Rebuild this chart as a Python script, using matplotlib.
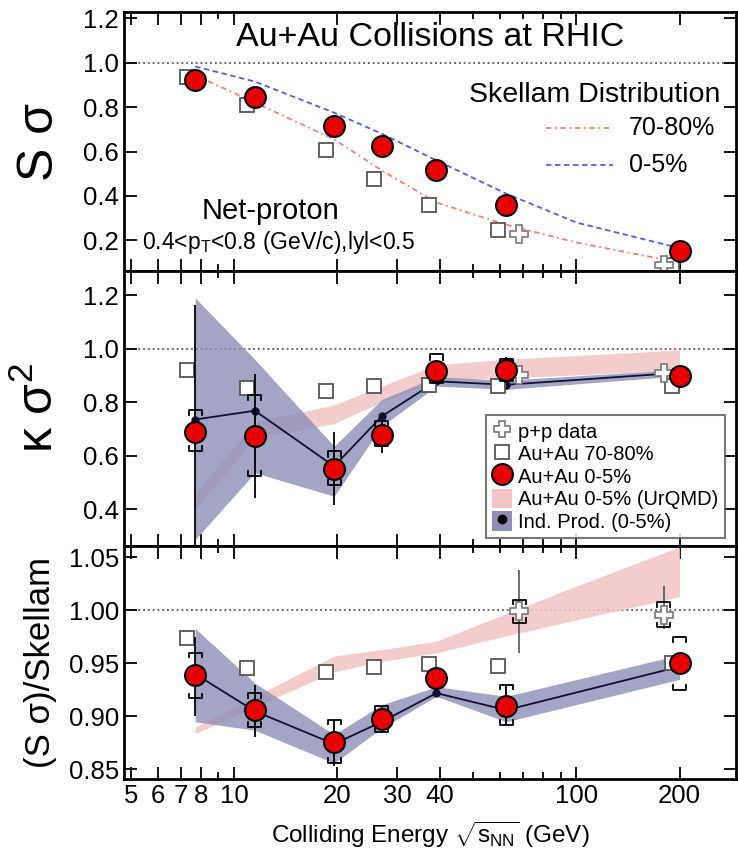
import matplotlib
matplotlib.use('Agg')
import matplotlib.pyplot as plt
from matplotlib.lines import Line2D
from matplotlib.patches import Patch
from matplotlib.ticker import FixedLocator, NullFormatter

plt.rcParams['font.family'] = ['Liberation Sans', 'DejaVu Sans']
plt.rcParams['mathtext.fontset'] = 'custom'
plt.rcParams['mathtext.rm'] = 'Liberation Sans'
plt.rcParams['mathtext.it'] = 'Liberation Sans:italic'

# beam energies (GeV)
energy = [7.7, 11.5, 19.6, 27, 39, 62.4, 200]
energy_periph = [7.3, 10.9, 18.6, 25.7, 37, 59, 190]
energy_pp = [68, 180]

# S sigma
ss_central = [0.92, 0.845, 0.715, 0.627, 0.515, 0.36, 0.15]
ss_periph = [0.935, 0.81, 0.605, 0.477, 0.36, 0.245, 0.09]
ss_pp = [0.23, 0.09]
skellam_energy = [7.7, 11.5, 19.6, 27, 39, 62.4, 100, 200]
skellam_central = [0.983, 0.915, 0.775, 0.68, 0.56, 0.41, 0.28, 0.165]
skellam_periph = [0.945, 0.82, 0.655, 0.515, 0.37, 0.27, 0.19, 0.10]

# kappa sigma^2
ks_central = [0.69, 0.675, 0.551, 0.678, 0.915, 0.92, 0.896]
ks_stat_lo = [0.26, 0.443, 0.417, 0.61, 0.875, 0.87, 0.885]
ks_stat_hi = [1.165, 0.906, 0.69, 0.735, 0.955, 0.97, 0.905]
ks_sys_lo = [0.616, 0.523, 0.49, 0.635, 0.87, 0.88, 0.885]
ks_sys_hi = [0.772, 0.828, 0.616, 0.73, 0.98, 0.96, 0.905]
ks_periph = [0.92, 0.854, 0.84, 0.86, 0.865, 0.86, 0.86]
ks_pp = [0.9, 0.91]
ks_indprod = [0.735, 0.768, 0.56, 0.747, 0.878, 0.865, 0.91]
ks_indprod_lo = [0.286, 0.536, 0.448, 0.71, 0.86, 0.848, 0.898]
ks_indprod_hi = [1.19, 0.96, 0.635, 0.81, 0.895, 0.882, 0.922]
ks_urqmd_lo = [0.40, 0.665, 0.72, 0.80, 0.885, 0.89, 0.92]
ks_urqmd_hi = [0.46, 0.725, 0.79, 0.86, 0.94, 0.96, 0.995]

# (S sigma)/Skellam
r_central = [0.939, 0.906, 0.876, 0.8975, 0.936, 0.910, 0.95]
r_stat_lo = [0.90, 0.881, 0.853, 0.885, 0.928, 0.892, 0.94]
r_stat_hi = [0.975, 0.93, 0.897, 0.91, 0.944, 0.93, 0.96]
r_sys_lo = [0.917, 0.89, 0.856, 0.885, 0.928, 0.892, 0.925]
r_sys_hi = [0.96, 0.922, 0.897, 0.91, 0.944, 0.93, 0.975]
r_periph = [0.974, 0.9457, 0.9415, 0.947, 0.949, 0.948, 0.95]
r_pp = [0.999, 0.996]
r_pp_stat_lo = [0.96, 0.982]
r_pp_stat_hi = [1.038, 1.023]
r_pp_sys_lo = [0.988, 0.984]
r_pp_sys_hi = [1.01, 1.008]
r_indprod = [0.94, 0.905, 0.874, 0.895, 0.922, 0.906, 0.947]
r_indprod_lo = [0.895, 0.887, 0.856, 0.889, 0.919, 0.895, 0.935]
r_indprod_hi = [0.983, 0.9315, 0.883, 0.911, 0.928, 0.919, 0.958]
r_urqmd_energy = [7.7, 11.5, 19.6, 27, 39, 62.4, 100, 200]
r_urqmd_lo = [0.884, 0.909, 0.942, 0.952, 0.96, 0.976, 0.991, 1.013]
r_urqmd_hi = [0.89, 0.919, 0.957, 0.963, 0.971, 0.997, 1.023, 1.06]

xtick_vals = [5, 6, 7, 8, 10, 20, 30, 40, 100, 200]
xminor_vals = [9, 50, 60, 70, 80, 90, 300]

RED = '#e60000'
BAND_BLUE = '#8e8eb6'
BAND_PINK = '#f3c4c4'


def draw_sys(ax, x, lo, hi, hw=1.045, tick=0.02):
    y0, y1 = ax.get_ylim()
    t = tick * (y1 - y0)
    for xi, l, h in zip(x, lo, hi):
        xs = [xi / hw, xi / hw, xi * hw, xi * hw]
        ax.plot(xs, [h - t, h, h, h - t], color='k', lw=1.3, zorder=6)
        ax.plot(xs, [l + t, l, l, l + t], color='k', lw=1.3, zorder=6)


def style_axis(ax, yticks, fmt):
    ax.set_xscale('log')
    ax.set_xlim(4.77, 292)
    ax.xaxis.set_major_locator(FixedLocator(xtick_vals))
    ax.xaxis.set_minor_locator(FixedLocator(xminor_vals))
    ax.xaxis.set_minor_formatter(NullFormatter())
    ax.set_yticks(yticks)
    ax.set_yticklabels([fmt.format(v) for v in yticks])
    ax.tick_params(which='both', direction='in', top=True, right=True,
                   labelsize=18.5, width=1.3)
    ax.tick_params(which='major', length=9)
    ax.tick_params(which='minor', length=5)
    for s in ax.spines.values():
        s.set_linewidth(2)
    ax.axhline(1.0, color='#555555', ls=':', lw=1.3, zorder=1)


fig = plt.figure(figsize=(7.38, 8.5), dpi=100)
L, W = 0.168, 0.829
ax1 = fig.add_axes([L, 0.681, W, 0.305])
ax2 = fig.add_axes([L, 0.358, W, 0.323])
ax3 = fig.add_axes([L, 0.0835, W, 0.2745])

# top panel: S sigma
ax1.set_ylim(0.061, 1.229)
style_axis(ax1, [0.2, 0.4, 0.6, 0.8, 1.0, 1.2], '{:.1f}')
ax1.plot(skellam_energy, skellam_periph, color='#f08080', ls=(0, (3, 2, 1, 2)), lw=1.3)
ax1.plot(skellam_energy, skellam_central, color='#5a5ae0', ls=(0, (3, 2)), lw=1.3)
ax1.plot(energy_periph, ss_periph, 's', ms=10, mfc='white', mec='#555555', mew=1.3)
ax1.plot(energy_pp, ss_pp, 'P', ms=13, mfc='white', mec='#777777', mew=1.2)
ax1.plot(energy, ss_central, 'o', ms=15, mfc=RED, mec='k', mew=1.5, zorder=8)
ax1.text(0.5, 0.9, 'Au+Au Collisions at RHIC', transform=ax1.transAxes,
         ha='center', va='center', fontsize=24.5)
ax1.text(0.975, 0.68, 'Skellam Distribution', transform=ax1.transAxes,
         ha='right', va='center', fontsize=20.5)
ax1.plot([0.69, 0.80], [0.552, 0.552], transform=ax1.transAxes,
         color='#f08080', ls=(0, (3, 2, 1, 2)), lw=1.3)
ax1.text(0.825, 0.552, '70-80%', transform=ax1.transAxes, ha='left', va='center', fontsize=18)
ax1.plot([0.69, 0.80], [0.41, 0.41], transform=ax1.transAxes,
         color='#5a5ae0', ls=(0, (3, 2)), lw=1.3)
ax1.text(0.825, 0.41, '0-5%', transform=ax1.transAxes, ha='left', va='center', fontsize=18)
ax1.text(0.24, 0.232, 'Net-proton', transform=ax1.transAxes, ha='center', va='center', fontsize=21)
ax1.text(0.03, 0.112, r'0.4<p$_\mathrm{T}$<0.8 (GeV/c),lyl<0.5', transform=ax1.transAxes,
         ha='left', va='center', fontsize=16.5)
ax1.set_ylabel('S σ', fontsize=36)
ax1.tick_params(labelbottom=False)

# middle panel: kappa sigma^2
ax2.set_ylim(0.263, 1.29)
style_axis(ax2, [0.4, 0.6, 0.8, 1.0, 1.2], '{:.1f}')
ax2.fill_between(energy, ks_urqmd_lo, ks_urqmd_hi, color=BAND_PINK, lw=0, alpha=0.85, zorder=2)
ax2.fill_between(energy, ks_indprod_lo, ks_indprod_hi, color=BAND_BLUE, lw=0, alpha=0.8, zorder=3)
ax2.plot(energy, ks_indprod, '-o', color='#101030', lw=1.3, ms=5, zorder=4)
ax2.plot(energy_periph, ks_periph, 's', ms=10, mfc='white', mec='#555555', mew=1.3, zorder=4)
ax2.plot(energy_pp, ks_pp, 'P', ms=13, mfc='white', mec='#777777', mew=1.2, zorder=5)
ks_err = [[c - l for c, l in zip(ks_central, ks_stat_lo)],
          [h - c for c, h in zip(ks_central, ks_stat_hi)]]
ax2.errorbar(energy, ks_central, yerr=ks_err, fmt='none', ecolor='k', elinewidth=1.3, zorder=6)
draw_sys(ax2, energy, ks_sys_lo, ks_sys_hi)
ax2.plot(energy, ks_central, 'o', ms=15, mfc=RED, mec='k', mew=1.5, zorder=8)
ax2.set_ylabel('κ σ$^2$', fontsize=36)
ax2.tick_params(labelbottom=False)

handles = [
    Line2D([], [], ls='none', marker='P', ms=12, mfc='white', mec='#777777', mew=1.2),
    Line2D([], [], ls='none', marker='s', ms=10, mfc='white', mec='#555555', mew=1.3),
    Line2D([], [], ls='none', marker='o', ms=15, mfc=RED, mec='k', mew=1.5),
    Patch(facecolor=BAND_PINK, edgecolor='none'),
    (Patch(facecolor=BAND_BLUE, edgecolor='none'),
     Line2D([], [], ls='none', marker='o', ms=6, color='k')),
]
labels = ['p+p data', 'Au+Au 70-80%', 'Au+Au 0-5%', 'Au+Au 0-5% (UrQMD)', 'Ind. Prod. (0-5%)']
leg = ax2.legend(handles, labels, loc='lower right', bbox_to_anchor=(0.982, 0.029),
                 fontsize=14.5, frameon=True, fancybox=False, edgecolor='#555555',
                 handlelength=1.0, handleheight=1.1, handletextpad=0.3,
                 labelspacing=0.1, borderpad=0.3, borderaxespad=0)
leg.get_frame().set_linewidth(1.5)
leg.set_zorder(10)

# bottom panel: ratio to Skellam
ax3.set_ylim(0.841, 1.061)
style_axis(ax3, [0.85, 0.90, 0.95, 1.00, 1.05], '{:.2f}')
ax3.fill_between(r_urqmd_energy, r_urqmd_lo, r_urqmd_hi, color=BAND_PINK, lw=0, alpha=0.85, zorder=2)
ax3.fill_between(energy, r_indprod_lo, r_indprod_hi, color=BAND_BLUE, lw=0, alpha=0.8, zorder=3)
ax3.plot(energy, r_indprod, '-o', color='#101030', lw=1.3, ms=5, zorder=4)
ax3.plot(energy_periph, r_periph, 's', ms=10, mfc='white', mec='#555555', mew=1.3, zorder=4)
pp_err = [[c - l for c, l in zip(r_pp, r_pp_stat_lo)],
          [h - c for c, h in zip(r_pp, r_pp_stat_hi)]]
ax3.errorbar(energy_pp, r_pp, yerr=pp_err, fmt='none', ecolor='#555555', elinewidth=1.2, zorder=5)
draw_sys(ax3, energy_pp, r_pp_sys_lo, r_pp_sys_hi)
ax3.plot(energy_pp, r_pp, 'P', ms=13, mfc='white', mec='#777777', mew=1.2, zorder=7)
r_err = [[c - l for c, l in zip(r_central, r_stat_lo)],
         [h - c for c, h in zip(r_central, r_stat_hi)]]
ax3.errorbar(energy, r_central, yerr=r_err, fmt='none', ecolor='k', elinewidth=1.3, zorder=6)
draw_sys(ax3, energy, r_sys_lo, r_sys_hi)
ax3.plot(energy, r_central, 'o', ms=15, mfc=RED, mec='k', mew=1.5, zorder=8)
ax3.set_xticklabels([str(v) for v in xtick_vals])
ax3.set_ylabel('(S σ)/Skellam', fontsize=25)
ax3.set_xlabel(r'Colliding Energy $\sqrt{\mathrm{s}_{\mathrm{NN}}}$ (GeV)', fontsize=17.5, labelpad=8)

ax1.yaxis.set_label_coords(-0.1, 0.5)
ax2.yaxis.set_label_coords(-0.1, 0.5)
ax3.yaxis.set_label_coords(-0.11, 0.5)

fig.savefig('out.png', dpi=100)
